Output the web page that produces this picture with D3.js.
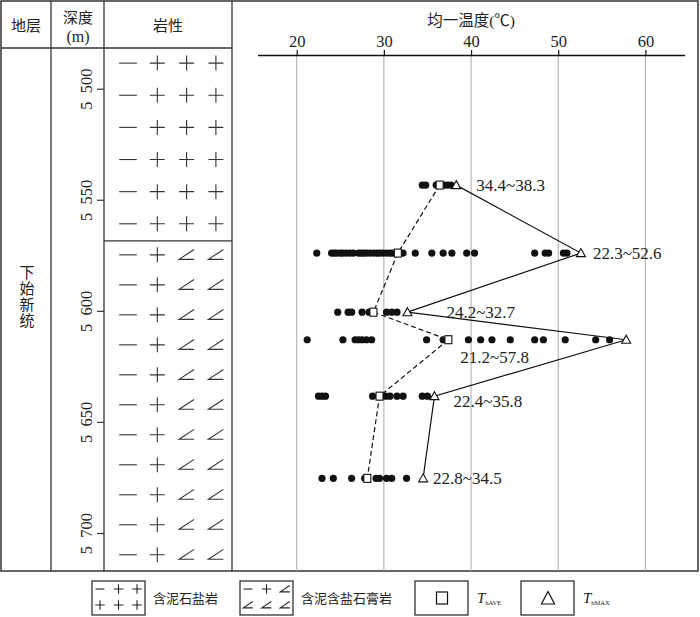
<!DOCTYPE html>
<html>
<head>
<meta charset="utf-8">
<script src="https://cdn.jsdelivr.net/npm/d3@7"></script>
<style>
body { margin: 0; background: #fff; }
text { font-family: "Liberation Serif", "Noto Sans CJK SC", serif; fill: #222; }
</style>
</head>
<body>
<svg id="chart" width="700" height="617"></svg>
<script>
// sample depths (m) and homogenization temperatures (C)
var sampleDepths = [5543.4, 5574, 5600.6, 5613, 5638.4, 5675.4]
var rangeLabels = ["34.4~38.3", "22.3~52.6", "24.2~32.7", "21.2~57.8", "22.4~35.8", "22.8~34.5"]
var tAve = [36.4, 31.6, 28.8, 37.4, 29.5, 28.1]
var tMax = [38.3, 52.6, 32.7, 57.8, 35.8, 34.5]
var temps = [
    [34.4, 34.8, 36.0, 36.9, 37.3, 37.7],
    [22.3, 24.0, 24.3, 24.6, 25.0, 25.3, 25.7, 26.1, 26.5, 27.1, 27.4, 27.7, 28.0, 28.4, 28.8, 29.2, 29.5,
     29.9, 30.3, 30.7, 31.0, 32.2, 33.6, 35.5, 36.8, 37.8, 39.5, 40.4, 47.3, 48.5, 48.9, 50.6, 51.0],
    [24.7, 25.9, 26.3, 27.5, 28.3, 30.3, 30.9, 31.5],
    [21.2, 25.3, 26.7, 27.1, 27.5, 28.0, 28.6, 34.9, 36.8, 39.7, 41.1, 42.4, 44.5, 47.3, 48.3, 50.8, 54.3, 55.9],
    [22.5, 22.9, 23.3, 28.7, 30.2, 30.7, 31.5, 32.2, 34.4, 35.0],
    [22.9, 24.2, 26.3, 27.8, 29.1, 29.5, 30.3, 30.9, 32.6]
]
var tempTicks = [20, 30, 40, 50, 60]
var depthTicks = [5500, 5550, 5600, 5650, 5700]

// lithology units
var lithNames = ["含泥石盐岩", "含泥含盐石膏岩"]
var lithTops = [5481.7, 5568.5]
var lithBottoms = [5568.5, 5717]
var lithRows = [6, 11]
var lithSymbols = [["dash", "plus", "plus", "plus"], ["dash", "plus", "angle", "angle"]]
var legendSymbols = [[["dash", "plus", "plus"], ["plus", "plus", "plus"]],
                     [["dash", "plus", "angle"], ["angle", "angle", "angle"]]]
var stratumName = "下始新统"

var dimensions = {
    width: 700,
    height: 617,
    top: 1, bottom: 571, left: 1, right: 698,
    header: 48,
    cols: [51, 104, 232],
    axisY: 55
}

var svg = d3.select("#chart")

var xScale = d3.scaleLinear().domain([15.5, 64.5]).range([257.5, 684.6])
var yScale = d3.scaleLinear().domain([5500, 5700]).range([88.7, 533])

// small glyph paths for lithology patterns
function glyph(type, cx, cy, s) {
    if (type == "dash") return `M${cx - s * 0.55},${cy}H${cx + s * 0.55}`
    if (type == "plus") return `M${cx - s / 2},${cy}H${cx + s / 2}M${cx},${cy - s / 2}V${cy + s / 2}`
    return `M${cx + s / 2},${cy - s * 0.36}L${cx - s / 2},${cy + s * 0.3}H${cx + s / 2}`
}

// frame
var frame = svg.append("g").attr("stroke", "#333").attr("fill", "none")
frame.append("rect")
    .attr("x", dimensions.left).attr("y", dimensions.top)
    .attr("width", dimensions.right - dimensions.left)
    .attr("height", dimensions.bottom - dimensions.top)
    .attr("stroke-width", 1.5)
dimensions.cols.forEach(c => frame.append("line")
    .attr("x1", c).attr("x2", c).attr("y1", dimensions.top).attr("y2", dimensions.bottom)
    .attr("stroke-width", 1.3))
frame.append("line")
    .attr("x1", dimensions.left).attr("x2", dimensions.cols[2])
    .attr("y1", dimensions.header).attr("y2", dimensions.header)
    .attr("stroke-width", 1.3)

// headers
svg.append("text").attr("x", 26).attr("y", 31).attr("text-anchor", "middle").style("font-size", "15px").text("地层")
svg.append("text").attr("x", 78).attr("y", 23).attr("text-anchor", "middle").style("font-size", "15px").text("深度")
svg.append("text").attr("x", 78).attr("y", 42).attr("text-anchor", "middle").style("font-size", "16px").text("(m)")
svg.append("text").attr("x", 168).attr("y", 31).attr("text-anchor", "middle").style("font-size", "15px").text("岩性")
svg.append("text").attr("x", xScale(40)).attr("y", 26).attr("text-anchor", "middle").style("font-size", "15.5px").text("均一温度(℃)")

// stratum, vertical characters
svg.append("g").selectAll("text")
    .data(stratumName.split(""))
    .enter().append("text")
    .attr("x", 27)
    .attr("y", (d, i) => 278 + i * 16)
    .attr("text-anchor", "middle")
    .style("font-size", "15px")
    .text(d => d)

// depth axis
var yAxisGen = d3.axisLeft(yScale).tickValues(depthTicks).tickSize(7)
    .tickFormat(d => String(d).slice(0, 1) + "\u2002" + String(d).slice(1))
var yAxis = svg.append("g")
    .attr("transform", `translate(${dimensions.cols[1]},0)`)
    .call(yAxisGen)
yAxis.select(".domain").remove()
yAxis.selectAll("line").attr("stroke", "#333").attr("stroke-width", 1.2)
yAxis.selectAll("text")
    .attr("transform", "rotate(-90)")
    .attr("x", 0).attr("y", -12).attr("dy", null)
    .attr("text-anchor", "middle")
    .style("font-size", "16.5px")
    .style("font-family", "Liberation Serif")

// lithology column
lithNames.forEach(function (name, k) {
    var y0 = yScale(lithTops[k]), y1 = yScale(lithBottoms[k])
    var h = (y1 - y0) / lithRows[k]
    if (k > 0) {
        svg.append("line").attr("x1", dimensions.cols[1]).attr("x2", dimensions.cols[2])
            .attr("y1", y0).attr("y2", y0).attr("stroke", "#333").attr("stroke-width", 1.3)
    }
    var rows = d3.range(lithRows[k])
    svg.append("g").selectAll("path")
        .data(d3.cross(rows, lithSymbols[k].map((s, i) => [s, i])))
        .enter().append("path")
        .attr("d", d => glyph(d[1][0], 128 + d[1][1] * 29.3, y0 + (d[0] + 0.5) * h - 1, d[1][0] == "dash" ? 16 : 15))
        .attr("fill", "none").attr("stroke", "#333").attr("stroke-width", 1.1)
})

// temperature axis + grid
svg.append("g").selectAll("line")
    .data(tempTicks).enter().append("line")
    .attr("x1", d => xScale(d)).attr("x2", d => xScale(d))
    .attr("y1", dimensions.axisY).attr("y2", dimensions.bottom)
    .attr("stroke", "#aaa").attr("stroke-width", 1)

var xAxisGen = d3.axisTop(xScale).tickValues(tempTicks).tickSize(5).tickSizeOuter(0)
var xAxis = svg.append("g")
    .attr("transform", `translate(0,${dimensions.axisY})`)
    .call(xAxisGen)
xAxis.select(".domain").attr("stroke", "#111").attr("stroke-width", 1.4)
xAxis.selectAll("line").attr("stroke", "#111").attr("stroke-width", 1.2)
xAxis.selectAll("text").style("font-size", "16.5px").style("font-family", "Liberation Serif").attr("fill", "#222")

// connecting lines
var aveLine = d3.line().x(d => xScale(d[0])).y(d => yScale(d[1]))
svg.append("path")
    .attr("d", aveLine(tAve.map((t, i) => [t, sampleDepths[i]])))
    .attr("fill", "none").attr("stroke", "#111").attr("stroke-width", 1.2).attr("stroke-dasharray", "5,3")
svg.append("path")
    .attr("d", aveLine(tMax.map((t, i) => [t, sampleDepths[i]])))
    .attr("fill", "none").attr("stroke", "#111").attr("stroke-width", 1.2)

// individual inclusion temperatures
var flat = []
temps.forEach((arr, i) => arr.forEach(t => flat.push([t, sampleDepths[i]])))
svg.append("g").selectAll("circle")
    .data(flat).enter().append("circle")
    .attr("cx", d => xScale(d[0])).attr("cy", d => yScale(d[1]))
    .attr("r", 3.6).attr("fill", "#111")

// averages (squares) and maxima (triangles)
svg.append("g").selectAll("rect")
    .data(tAve).enter().append("rect")
    .attr("x", d => xScale(d) - 3.5).attr("y", (d, i) => yScale(sampleDepths[i]) - 4)
    .attr("width", 7).attr("height", 8)
    .attr("fill", "#fff").attr("stroke", "#111").attr("stroke-width", 1.1)
svg.append("g").selectAll("path")
    .data(tMax).enter().append("path")
    .attr("d", (d, i) => {
        var cx = xScale(d), cy = yScale(sampleDepths[i])
        return `M${cx},${cy - 4.5}L${cx + 4.5},${cy + 3.5}L${cx - 4.5},${cy + 3.5}Z`
    })
    .attr("fill", "#fff").attr("stroke", "#111").attr("stroke-width", 1.1)

// range labels, placed beside each sample's maximum
var labelOffsets = [[20, 0], [12, 0], [39, 0], [-166, 17], [19, 5], [10, 0]]
svg.append("g").selectAll("text")
    .data(rangeLabels).enter().append("text")
    .attr("x", (d, i) => xScale(tMax[i]) + labelOffsets[i][0])
    .attr("y", (d, i) => yScale(sampleDepths[i]) + labelOffsets[i][1])
    .attr("dy", "0.36em")
    .style("font-size", "17px")
    .text(d => d)

// legend
var legend = svg.append("g")
var boxX = [92, 240, 415, 521]
boxX.forEach(bx => legend.append("rect")
    .attr("x", bx).attr("y", 581).attr("width", 53).attr("height", 34)
    .attr("fill", "none").attr("stroke", "#333").attr("stroke-width", 1.3))
legendSymbols.forEach(function (rows, k) {
    rows.forEach(function (row, r) {
        row.forEach(function (s, c) {
            legend.append("path")
                .attr("d", glyph(s, boxX[k] + 8 + c * 18.5, 589 + r * 16, s == "dash" ? 8 : 9.5))
                .attr("fill", "none").attr("stroke", "#222").attr("stroke-width", 1.1)
        })
    })
    legend.append("text")
        .attr("x", boxX[k] + 61).attr("y", 603)
        .style("font-size", "13px").attr("fill", "#333")
        .text(lithNames[k])
})
legend.append("rect").attr("x", 436.5).attr("y", 592).attr("width", 11).attr("height", 12)
    .attr("fill", "#fff").attr("stroke", "#111").attr("stroke-width", 1.2)
legend.append("path").attr("d", "M548,591.5L554.5,604L541.5,604Z")
    .attr("fill", "#fff").attr("stroke", "#111").attr("stroke-width", 1.2)
var keyNames = ["hAVE", "hMAX"]
;[477, 583].forEach(function (tx, i) {
    var t = legend.append("text").attr("x", tx).attr("y", 603)
    t.append("tspan").style("font-size", "15px").style("font-style", "italic").text("T")
    t.append("tspan").style("font-size", "6.5px").attr("dy", 2).text(keyNames[i])
})
</script>
</body>
</html>
